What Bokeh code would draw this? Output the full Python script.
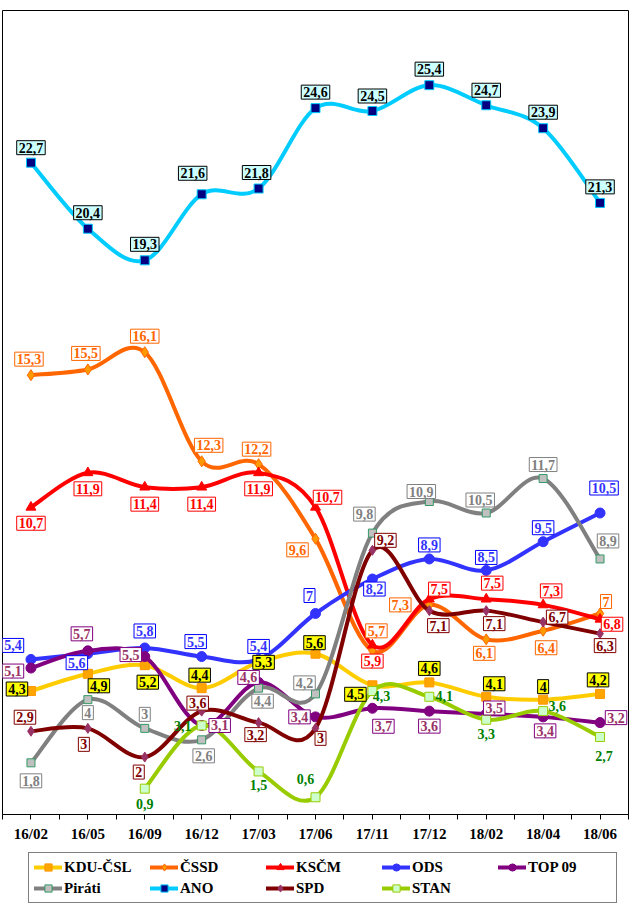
from bokeh.plotting import figure
from bokeh.layouts import column
from bokeh.models import ColumnDataSource, Range1d, FixedTicker, Legend, LegendItem
from bokeh.embed import file_html
from bokeh.resources import INLINE
from bokeh.core.properties import value

categories = ["16/02", "16/05", "16/09", "16/12", "17/03", "17/06",
              "17/11", "17/12", "18/02", "18/04", "18/06"]

kdu = [4.3, 4.9, 5.2, 4.4, 5.3, 5.6, 4.5, 4.6, 4.1, 4.0, 4.2]
cssd = [15.3, 15.5, 16.1, 12.3, 12.2, 9.6, 5.7, 7.3, 6.1, 6.4, 7.0]
kscm = [10.7, 11.9, 11.4, 11.4, 11.9, 10.7, 5.9, 7.5, 7.5, 7.3, 6.8]
ods = [5.4, 5.6, 5.8, 5.5, 5.4, 7.0, 8.2, 8.9, 8.5, 9.5, 10.5]
top09 = [5.1, 5.7, 5.5, 3.1, 4.6, 3.4, 3.7, 3.6, 3.5, 3.4, 3.2]
pirati = [1.8, 4.0, 3.0, 2.6, 4.4, 4.2, 9.8, 10.9, 10.5, 11.7, 8.9]
ano = [22.7, 20.4, 19.3, 21.6, 21.8, 24.6, 24.5, 25.4, 24.7, 23.9, 21.3]
spd = [2.9, 3.0, 2.0, 3.6, 3.2, 3.0, 9.2, 7.1, 7.1, 6.7, 6.3]
stan = [None, None, 0.9, 3.1, 1.5, 0.6, 4.3, 4.1, 3.3, 3.6, 2.7]

# label offsets in screen pixels (dx right, dy down)
off_kdu = [(-14, -2), (11, 12), (3, 17), (-2, -13), (5, 0), (-1, -11), (-17, 9), (0, -14), (8, -13), (0, -13), (-2, -14)]
off_cssd = [(-2, -16), (-2, -16), (0, -16), (7, -16), (-2, -15), (-18, 11), (4, -20), (-29, 0), (-2, 14), (3, 17), (6, -12)]
off_kscm = [(0, 16), (0, 16), (0, 17), (0, 17), (0, 16), (12, -10), (0, 16), (10, -10), (6, -16), (8, -14), (12, 5)]
off_ods = [(-18, -14), (-11, 9), (0, -17), (-6, -15), (0, -13), (-6, -18), (2, 10), (0, -14), (0, -13), (0, -14), (4, -25)]
off_top = [(-18, 3), (-6, -17), (-14, -2), (18, 0), (-10, -5), (-16, 0), (11, 18), (0, 15), (8, -6), (2, 14), (16, -5)]
off_pir = [(0, 18), (0, 13), (0, -14), (2, 16), (4, 13), (-11, -11), (-8, -19), (-8, -10), (-6, -13), (0, -14), (8, -18)]
off_ano = [(0, -15), (0, -16), (0, -16), (-9, -21), (-2, -16), (0, -16), (0, -15), (0, -16), (0, -15), (0, -16), (0, -16)]
off_spd = [(-6, -14), (-4, 16), (-6, 15), (-4, -8), (-3, 12), (5, 10), (13, -10), (9, 15), (8, 13), (14, -5), (5, 12)]
off_stan = [None, None, (0, 15), (-19, 1), (0, 14), (-10, -18), (9, 5), (15, -1), (0, 14), (14, -5), (4, 19)]

FONT = "Liberation Serif"

series = [
    # name, values, offsets, line color, marker, size, fill, marker line, label text, label fill, label border
    ("KDU-ČSL", kdu, off_kdu, "#FFCC00", "square", 9, "#FFA500", "#FF9900", "#000000", "#FFFF00", "#000000"),
    ("ČSSD", cssd, off_cssd, "#FF6600", "diamond", 11, "#FF9900", "#FF6600", "#FF6600", "#FFFFFF", "#FF6600"),
    ("KSČM", kscm, off_kscm, "#FF0000", "triangle", 10, "#FF0000", "#FF0000", "#FF0000", "#FFFFFF", "#FF0000"),
    ("ODS", ods, off_ods, "#3333FF", "circle", 10, "#3333FF", "#3333FF", "#3333FF", "#FFFFFF", "#0000FF"),
    ("TOP 09", top09, off_top, "#800080", "circle", 10, "#800080", "#800080", "#993366", "#FFFFFF", "#800080"),
    ("Piráti", pirati, off_pir, "#808080", "square", 8, "#C0C0C0", "#339966", "#808080", "#FFFFFF", "#808080"),
    ("ANO", ano, off_ano, "#00CCFF", "square", 9, "#000080", "#00CCFF", "#000000", "#CCFFFF", "#000000"),
    ("SPD", spd, off_spd, "#800000", "diamond", 10, "#993366", "#993366", "#800000", "#FFFFFF", "#800000"),
    ("STAN", stan, off_stan, "#99CC00", "square", 9, "#CCFFCC", "#99CC00", "#008000", None, None),
]

p = figure(frame_width=626, frame_height=804, output_backend="svg", toolbar_location=None,
           x_range=Range1d(0, len(categories)), y_range=Range1d(0, 28),
           min_border_left=2, min_border_right=6, min_border_top=10,
           min_border_bottom=0)
p.xgrid.visible = False
p.ygrid.visible = False
p.yaxis.visible = False
p.outline_line_color = "black"
p.outline_line_width = 1
p.background_fill_color = "white"
p.border_fill_color = "white"

centers = [i + 0.5 for i in range(len(categories))]
ax = p.xaxis[0]
ax.ticker = FixedTicker(ticks=centers, minor_ticks=list(range(len(categories) + 1)))
ax.major_label_overrides = {c: lab for c, lab in zip(centers, categories)}
ax.major_tick_out = 5
ax.major_tick_in = 0
ax.minor_tick_out = 5
ax.minor_tick_in = 0
ax.axis_line_color = "black"
ax.major_tick_line_color = "black"
ax.minor_tick_line_color = "black"
ax.major_label_text_font = FONT
ax.major_label_text_font_style = "bold"
ax.major_label_text_font_size = "15px"
ax.major_label_text_color = "black"
ax.major_label_standoff = 6

# separate strip that holds only the legend (its view window shows no data)
lf = figure(width=634, height=62, output_backend="svg", toolbar_location=None,
            x_range=Range1d(0, len(categories)), y_range=Range1d(100, 101),
            x_axis_location=None, y_axis_location=None,
            min_border=0)
lf.xgrid.visible = False
lf.ygrid.visible = False
lf.outline_line_color = None
lf.background_fill_color = "white"
lf.border_fill_color = "white"


def bezier_data(xs, ys):
    n = len(xs)
    d = dict(x0=[], y0=[], x1=[], y1=[], cx0=[], cy0=[], cx1=[], cy1=[])
    for i in range(n - 1):
        im = max(i - 1, 0)
        ip2 = min(i + 2, n - 1)
        d["x0"].append(xs[i]); d["y0"].append(ys[i])
        d["x1"].append(xs[i + 1]); d["y1"].append(ys[i + 1])
        d["cx0"].append(xs[i] + (xs[i + 1] - xs[im]) / 6.0)
        d["cy0"].append(ys[i] + (ys[i + 1] - ys[im]) / 6.0)
        d["cx1"].append(xs[i + 1] - (xs[ip2] - xs[i]) / 6.0)
        d["cy1"].append(ys[i + 1] - (ys[ip2] - ys[i]) / 6.0)
    return d


def fmt(v):
    s = ("%.1f" % v).rstrip("0").rstrip(".")
    return s.replace(".", ",")


items = []
label_layers = []
for (name, vals, offs, lc, mk, ms, mf, ml, tc, bf, bl) in series:
    xs = [centers[i] for i, v in enumerate(vals) if v is not None]
    ys = [v for v in vals if v is not None]
    oo = [o for o in offs if o is not None]
    bz = ColumnDataSource(bezier_data(xs, ys))
    src = ColumnDataSource(dict(x=xs, y=ys, t=[fmt(v) for v in ys],
                                dx=[o[0] for o in oo], dy=[o[1] for o in oo]))
    for fig in (p, lf):
        r_line = fig.bezier(x0="x0", y0="y0", x1="x1", y1="y1", cx0="cx0", cy0="cy0",
                            cx1="cx1", cy1="cy1", source=bz, line_color=lc, line_width=4,
                            line_cap="round")
        r_mk = fig.scatter(x="x", y="y", source=src, marker=mk, size=ms, fill_color=mf,
                           line_color=ml, line_width=1)
    items.append(LegendItem(label=name, renderers=[r_line, r_mk]))
    label_layers.append((src, tc, bf, bl))

for src, tc, bf, bl in label_layers:
    kw = dict(x="x", y="y", text="t", source=src, x_offset="dx", y_offset="dy",
              text_align="center", text_baseline="middle",
              text_font=value(FONT), text_font_style="bold", text_font_size="14px",
              text_color=tc)
    if bf is not None:
        kw.update(background_fill_color=bf, border_line_color=bl, border_line_width=1,
                  padding=2)
    p.text(**kw)

legend = Legend(items=items, orientation="horizontal", ncols=5,
                label_text_font=FONT, label_text_font_style="bold",
                label_text_font_size="15px", label_text_color="black",
                glyph_width=28, glyph_height=18, label_height=18, label_width=83,
                label_standoff=2, spacing=3, padding=5, margin=0,
                border_line_color="black", border_line_width=1,
                background_fill_color="white", location=(26, 3))
lf.add_layout(legend, "center")

layout = column(p, lf, spacing=0)
open("out.html", "w").write(file_html(layout, INLINE))
